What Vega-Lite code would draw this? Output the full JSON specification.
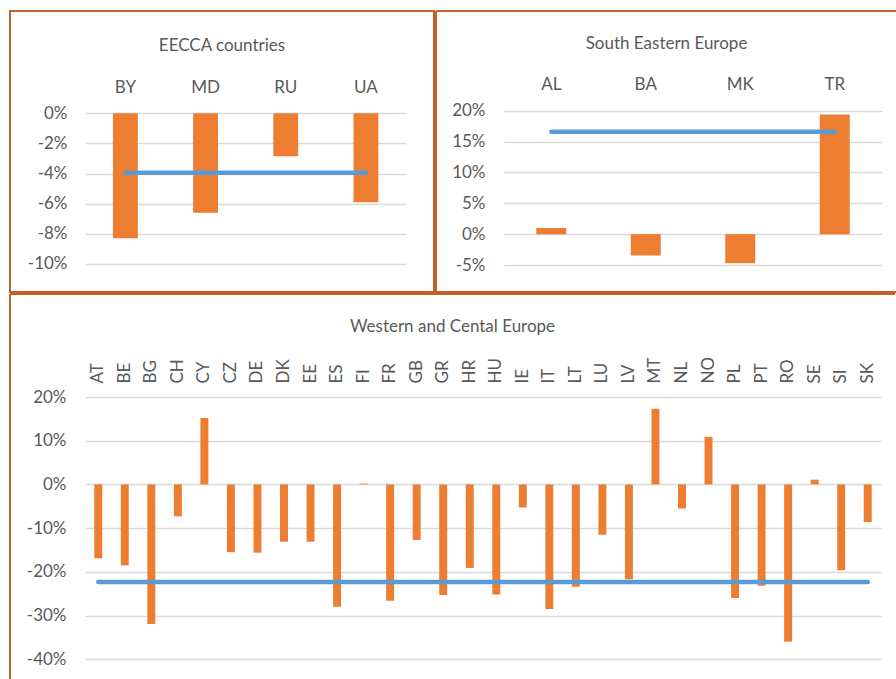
{
  "$schema": "https://vega.github.io/schema/vega-lite/v6.json",
  "padding": {"left": 9, "top": 10, "right": 0, "bottom": 0},
  "background": "white",
  "config": {
    "font": "Lato",
    "locale": {"number": {"decimal": ".", "thousands": ",", "grouping": [3], "currency": ["$", ""], "minus": "-"}},
    "axis": {"labelFont": "Lato", "labelFontSize": 17, "labelColor": "#595959", "domain": false, "ticks": false, "tickSize": 0, "grid": false, "labelPadding": 0, "gridColor": "#D9D9D9", "gridWidth": 1.5},
    "title": {"font": "Lato", "fontSize": 17, "fontWeight": "normal", "color": "#595959", "anchor": "middle", "frame": "group", "baseline": "middle"}
  },
  "datasets": {
    "eecca": [
      {"c": "BY", "v": -0.083},
      {"c": "MD", "v": -0.066},
      {"c": "RU", "v": -0.0285},
      {"c": "UA", "v": -0.059}
    ],
    "eeccaAvg": [{"c": "BY", "v": -0.0395}, {"c": "UA", "v": -0.0395}],
    "see": [
      {"c": "AL", "v": 0.010},
      {"c": "BA", "v": -0.0345},
      {"c": "MK", "v": -0.047},
      {"c": "TR", "v": 0.194}
    ],
    "seeAvg": [{"c": "AL", "v": 0.166}, {"c": "TR", "v": 0.166}],
    "wce": [
      {"c": "AT", "v": -0.169},
      {"c": "BE", "v": -0.185},
      {"c": "BG", "v": -0.319},
      {"c": "CH", "v": -0.073},
      {"c": "CY", "v": 0.152},
      {"c": "CZ", "v": -0.155},
      {"c": "DE", "v": -0.156},
      {"c": "DK", "v": -0.131},
      {"c": "EE", "v": -0.131},
      {"c": "ES", "v": -0.280},
      {"c": "FI", "v": 0.002},
      {"c": "FR", "v": -0.266},
      {"c": "GB", "v": -0.127},
      {"c": "GR", "v": -0.253},
      {"c": "HR", "v": -0.191},
      {"c": "HU", "v": -0.252},
      {"c": "IE", "v": -0.053},
      {"c": "IT", "v": -0.285},
      {"c": "LT", "v": -0.234},
      {"c": "LU", "v": -0.115},
      {"c": "LV", "v": -0.217},
      {"c": "MT", "v": 0.173},
      {"c": "NL", "v": -0.055},
      {"c": "NO", "v": 0.109},
      {"c": "PL", "v": -0.260},
      {"c": "PT", "v": -0.232},
      {"c": "RO", "v": -0.360},
      {"c": "SE", "v": 0.011},
      {"c": "SI", "v": -0.196},
      {"c": "SK", "v": -0.086}
    ],
    "wceAvg": [{"c": "AT", "v": -0.223}, {"c": "SK", "v": -0.223}]
  },
  "vconcat": [
    {
      "hconcat": [
        {
          "width": 424,
          "height": 281,
          "view": {"stroke": "#BF6128", "strokeWidth": 2},
          "title": {"text": "EECCA countries", "offset": -44},
          "layer": [
            {
              "data": {"name": "eecca"},
              "mark": {"type": "bar", "color": "#ED7D31"},
              "encoding": {
                "x": {"field": "c", "type": "nominal", "title": null,
                  "scale": {"range": [75.3, 396], "paddingInner": 0.69, "paddingOuter": 0.345},
                  "axis": {"orient": "top", "offset": -76, "labelAngle": 0, "labelBaseline": "middle", "grid": false}},
                "y": {"field": "v", "type": "quantitative", "title": null,
                  "scale": {"domain": [-0.1186, 0.0679], "nice": false, "zero": false},
                  "axis": {"orient": "left", "offset": -57, "grid": true, "values": [0, -0.02, -0.04, -0.06, -0.08, -0.1], "format": ".0%"}},
                "y2": {"datum": 0}
              }
            },
            {
              "data": {"name": "eeccaAvg"},
              "mark": {"type": "line", "color": "#5B9BD5", "strokeWidth": 4.5, "strokeCap": "round"},
              "encoding": {
                "x": {"field": "c", "type": "nominal", "title": null},
                "y": {"field": "v", "type": "quantitative", "title": null}
              }
            }
          ]
        },
        {
          "width": 461,
          "height": 281,
          "view": {"stroke": "#BF6128", "strokeWidth": 2, "strokeDash": [461, 281, 742, 0]},
          "title": {"text": "South Eastern Europe", "offset": -42},
          "layer": [
            {
              "data": {"name": "see"},
              "mark": {"type": "bar", "color": "#ED7D31"},
              "encoding": {
                "x": {"field": "c", "type": "nominal", "title": null,
                  "scale": {"range": [68, 446], "paddingInner": 0.683, "paddingOuter": 0.3415},
                  "axis": {"orient": "top", "offset": -73, "labelAngle": 0, "labelBaseline": "middle", "grid": false}},
                "y": {"field": "v", "type": "quantitative", "title": null,
                  "scale": {"domain": [-0.0937, 0.3615], "nice": false, "zero": false},
                  "axis": {"orient": "left", "offset": -49, "grid": true, "values": [0.2, 0.15, 0.1, 0.05, 0, -0.05], "format": ".0%"}},
                "y2": {"datum": 0}
              }
            },
            {
              "data": {"name": "seeAvg"},
              "mark": {"type": "line", "color": "#5B9BD5", "strokeWidth": 4.5, "strokeCap": "round"},
              "encoding": {
                "x": {"field": "c", "type": "nominal", "title": null},
                "y": {"field": "v", "type": "quantitative", "title": null}
              }
            }
          ]
        }
      ],
      "spacing": 0
    },
    {
      "width": 885,
      "height": 386,
      "view": {"stroke": "#BF6128", "strokeWidth": 2, "strokeDash": [885, 1271, 386, 0]},
      "title": {"text": "Western and Cental Europe", "offset": -42},
      "layer": [
        {
          "data": {"name": "wce"},
          "mark": {"type": "bar", "color": "#ED7D31"},
          "encoding": {
            "x": {"field": "c", "type": "nominal", "title": null,
              "scale": {"range": [75, 871], "paddingInner": 0.7, "paddingOuter": 0.35},
              "axis": {"orient": "top", "offset": -89, "labelAngle": -90, "labelAlign": "left", "labelBaseline": "middle", "grid": false}},
            "y": {"field": "v", "type": "quantitative", "title": null,
              "scale": {"domain": [-0.4473, 0.4356], "nice": false, "zero": false},
              "axis": {"orient": "left", "offset": -56, "grid": true, "values": [0.2, 0.1, 0, -0.1, -0.2, -0.3, -0.4], "format": ".0%"}},
            "y2": {"datum": 0}
          }
        },
        {
          "data": {"name": "wceAvg"},
          "mark": {"type": "line", "color": "#5B9BD5", "strokeWidth": 4.5, "strokeCap": "round"},
          "encoding": {
            "x": {"field": "c", "type": "nominal", "title": null},
            "y": {"field": "v", "type": "quantitative", "title": null}
          }
        }
      ]
    }
  ],
  "spacing": 0
}
